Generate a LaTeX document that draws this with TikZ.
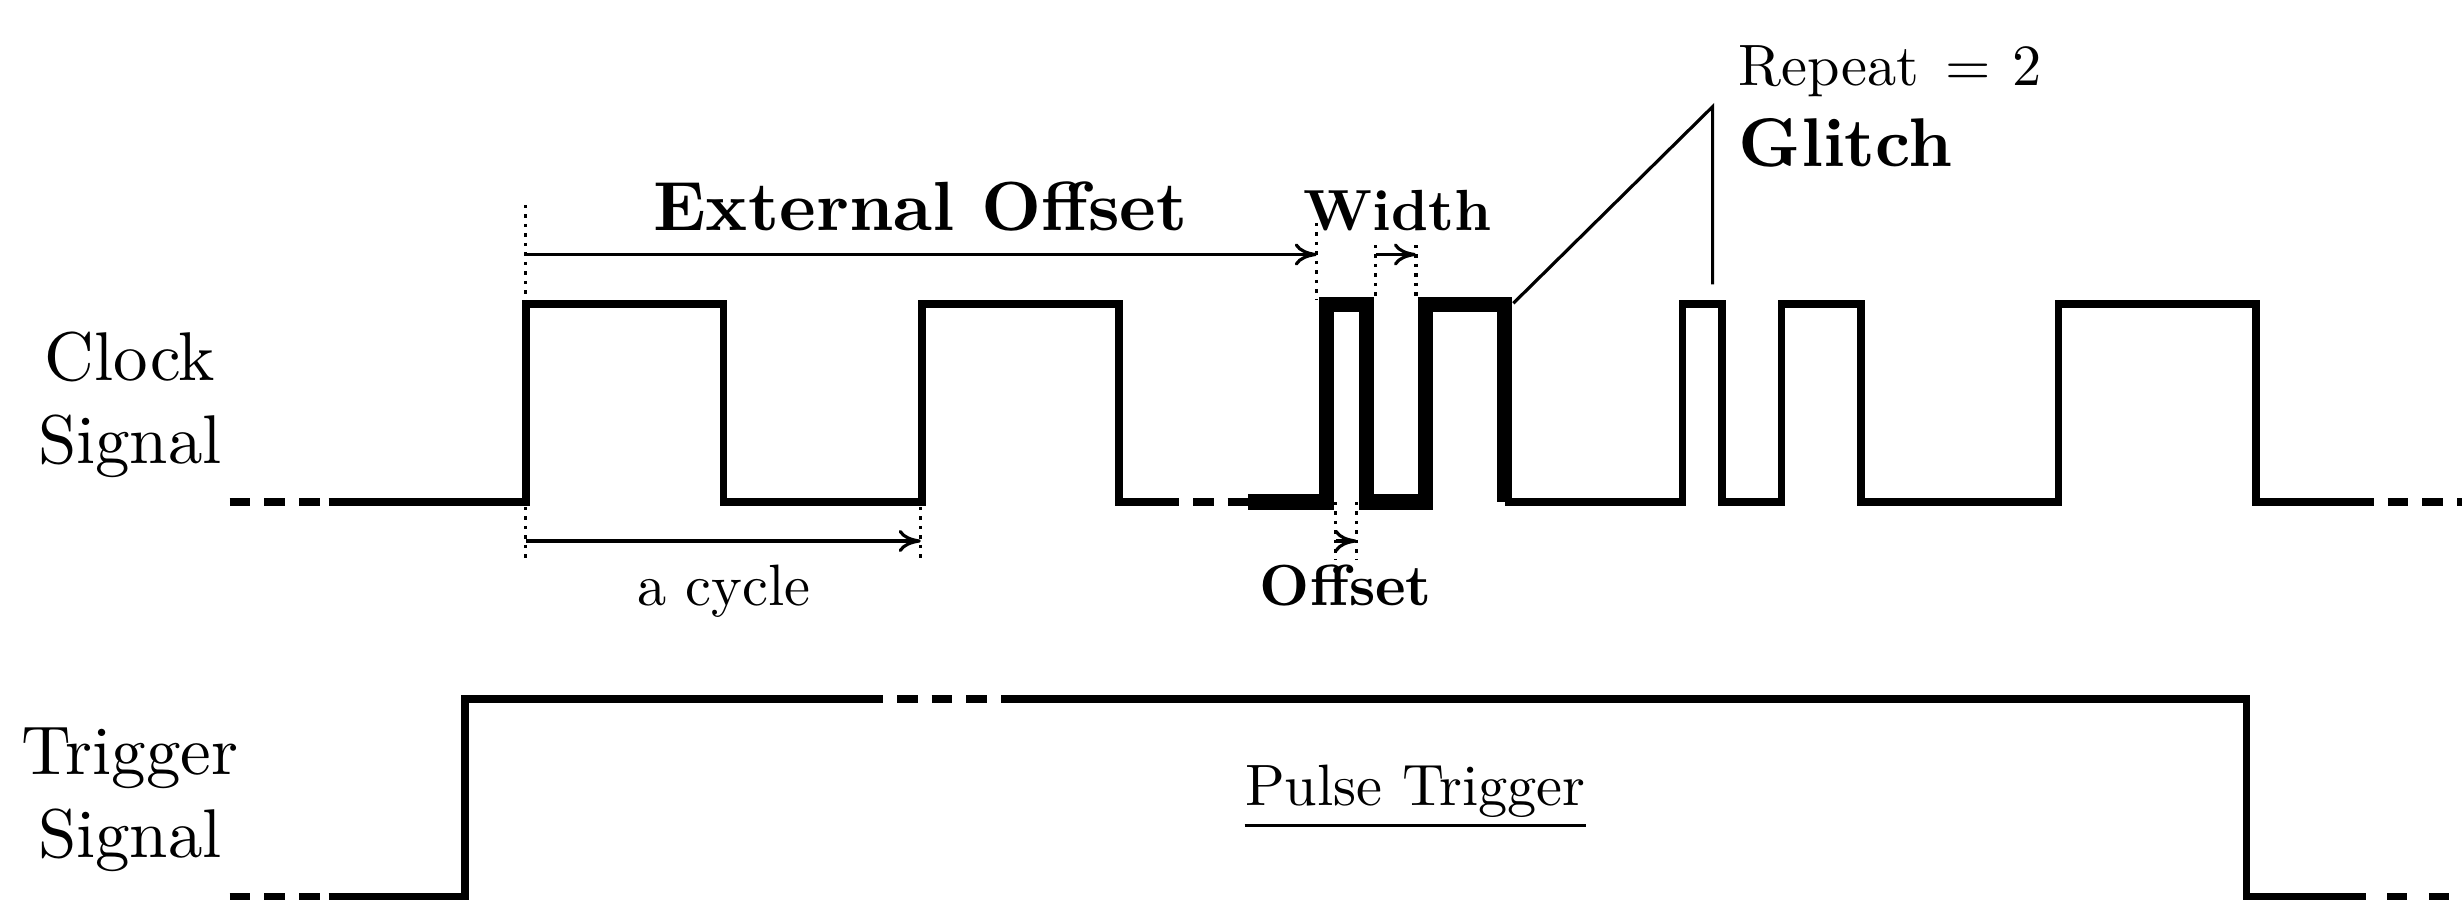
\documentclass[tikz,border=0pt]{standalone}
\usepackage{fontspec}
\setmainfont{lmroman10-regular.otf}[BoldFont=lmroman10-bold.otf,ItalicFont=lmroman10-italic.otf]
\usetikzlibrary{arrows.meta,calc}
\begin{document}
\begin{tikzpicture}[x=0.01cm,y=-0.01cm,
  wave/.style={line width=2.2pt},
  thickwave/.style={line width=4.3pt},
  dashseg/.style={wave, dash pattern=on 5.83pt off 4.04pt},
  guide/.style={line width=0.9pt, dash pattern=on 0.9pt off 1.8pt},
  dim/.style={line width=0.9pt, -{Computer Modern Rightarrow[length=6.3pt,width=6.3pt]}},
  annot/.style={line width=0.9pt},
  lbl/.style={inner sep=0pt, anchor=base},
  big/.style={font=\fontsize{19.6}{23.6}\selectfont},
  mid/.style={font=\fontsize{16.6}{19.5}\selectfont},
  bigb/.style={font=\fontsize{19.8}{23.6}\selectfont\bfseries},
  midb/.style={font=\fontsize{16.5}{19.5}\selectfont\bfseries}]
\useasboundingbox (0,0) rectangle (2462,900);
\clip (0,0) rectangle (2462,900);

% ---------- clock signal ----------
\draw[dashseg] (229.6,502) -- (320,502);
\draw[wave] (328.6,502) -- (525.8,502) -- (525.8,304.2) -- (723.5,304.2) -- (723.5,502)
  -- (922,502) -- (922,304.2) -- (1119.2,304.2) -- (1119.2,502) -- (1158.3,502);
\draw[dashseg] (1158.3,502) -- (1248,502);
\draw[thickwave] (1248,502) -- (1326.7,502) -- (1326.7,304.2) -- (1366.2,304.2) -- (1366.2,502)
  -- (1425.8,502) -- (1425.8,304.2) -- (1504.7,304.2) -- (1504.7,502);
\draw[wave] (1504.7,502) -- (1682.5,502) -- (1682.5,304.2) -- (1722.3,304.2) -- (1722.3,502)
  -- (1781.5,502) -- (1781.5,304.2) -- (1860.9,304.2) -- (1860.9,502)
  -- (2058.5,502) -- (2058.5,304.2) -- (2256,304.2) -- (2256,502) -- (2353,502);
\draw[dashseg] (2353,502) -- (2480,502);

% ---------- trigger signal ----------
\draw[dashseg] (229.6,896.5) -- (320,896.5);
\draw[wave] (328.6,896.5) -- (465.2,896.5) -- (465.2,699.2) -- (862.3,699.2);
\draw[dashseg] (862.3,699.2) -- (1021,699.2);
\draw[wave] (1020.7,699.2) -- (2246.5,699.2) -- (2246.5,896.5) -- (2345.7,896.5);
\draw[wave, dash pattern=on 5.69pt off 6.12pt] (2345.7,896.5) -- (2480,896.5);

% ---------- guides ----------
\draw[guide] (525.8,205) -- (525.8,300);
\draw[guide] (525.8,507) -- (525.8,560);
\draw[guide] (920.8,507) -- (920.8,560);
\draw[guide] (1316.9,223) -- (1316.9,300);
\draw[guide] (1375.7,245) -- (1375.7,300);
\draw[guide] (1416,245) -- (1416,300);
\draw[guide] (1335.7,502) -- (1335.7,560);
\draw[guide] (1356.7,502) -- (1356.7,560);

% ---------- dimension arrows ----------
\coordinate (eoA) at (525.8,254.5);
\coordinate (eoB) at (1316.9,254.5);
\coordinate (wA) at (1375.7,254.5);
\coordinate (wB) at (1416,254.5);
\coordinate (cyA) at (525.8,541);
\coordinate (cyB) at (920.8,541);
\coordinate (ofA) at (1335.7,541);
\coordinate (ofB) at (1356.7,541);
\draw[dim] (eoA) -- (eoB);
\draw[dim] (wA) -- (wB);
\draw[dim] (cyA) -- (cyB);
\draw[dim] (ofA) -- (ofB);

% ---------- glitch annotation ----------
\coordinate (gA) at (1513.3,303.3);
\coordinate (gB) at (1712.6,106.7);
\coordinate (gC) at (1712.6,284.3);
\draw[annot] (gA) -- (gB) -- (gC);

% ---------- labels ----------
\node[lbl, big, align=center] (clk) at (130,463.3) {Clock\\Signal};
\node[lbl, big, align=center] (trg) at (130,857) {Trigger\\Signal};
\node[lbl, bigb] (ext) at (920.5,230.7) {External Offset};
\node[lbl, midb] (wid) at (1397.5,230.7) {Width};
\node[lbl, midb] (off) at (1345.9,605) {Offset};
\node[lbl, mid] (cyc) at (724,605) {a cycle};
\node[lbl, mid, anchor=base west] (rep) at (1738,85) {Repeat\hspace{0.45em}=\hspace{0.37em}2};
\node[lbl, font=\fontsize{19.6}{23.6}\selectfont\bfseries, anchor=base west] (gl) at (1738,166.7) {Glitch};
\node[lbl, mid] (pt) at (1415.4,805.6) {Pulse Trigger};
\draw[line width=0.85pt] ($(pt.base west)+(0,20.1)$) -- ($(pt.base east)+(0,20.1)$);
\end{tikzpicture}
\end{document}
